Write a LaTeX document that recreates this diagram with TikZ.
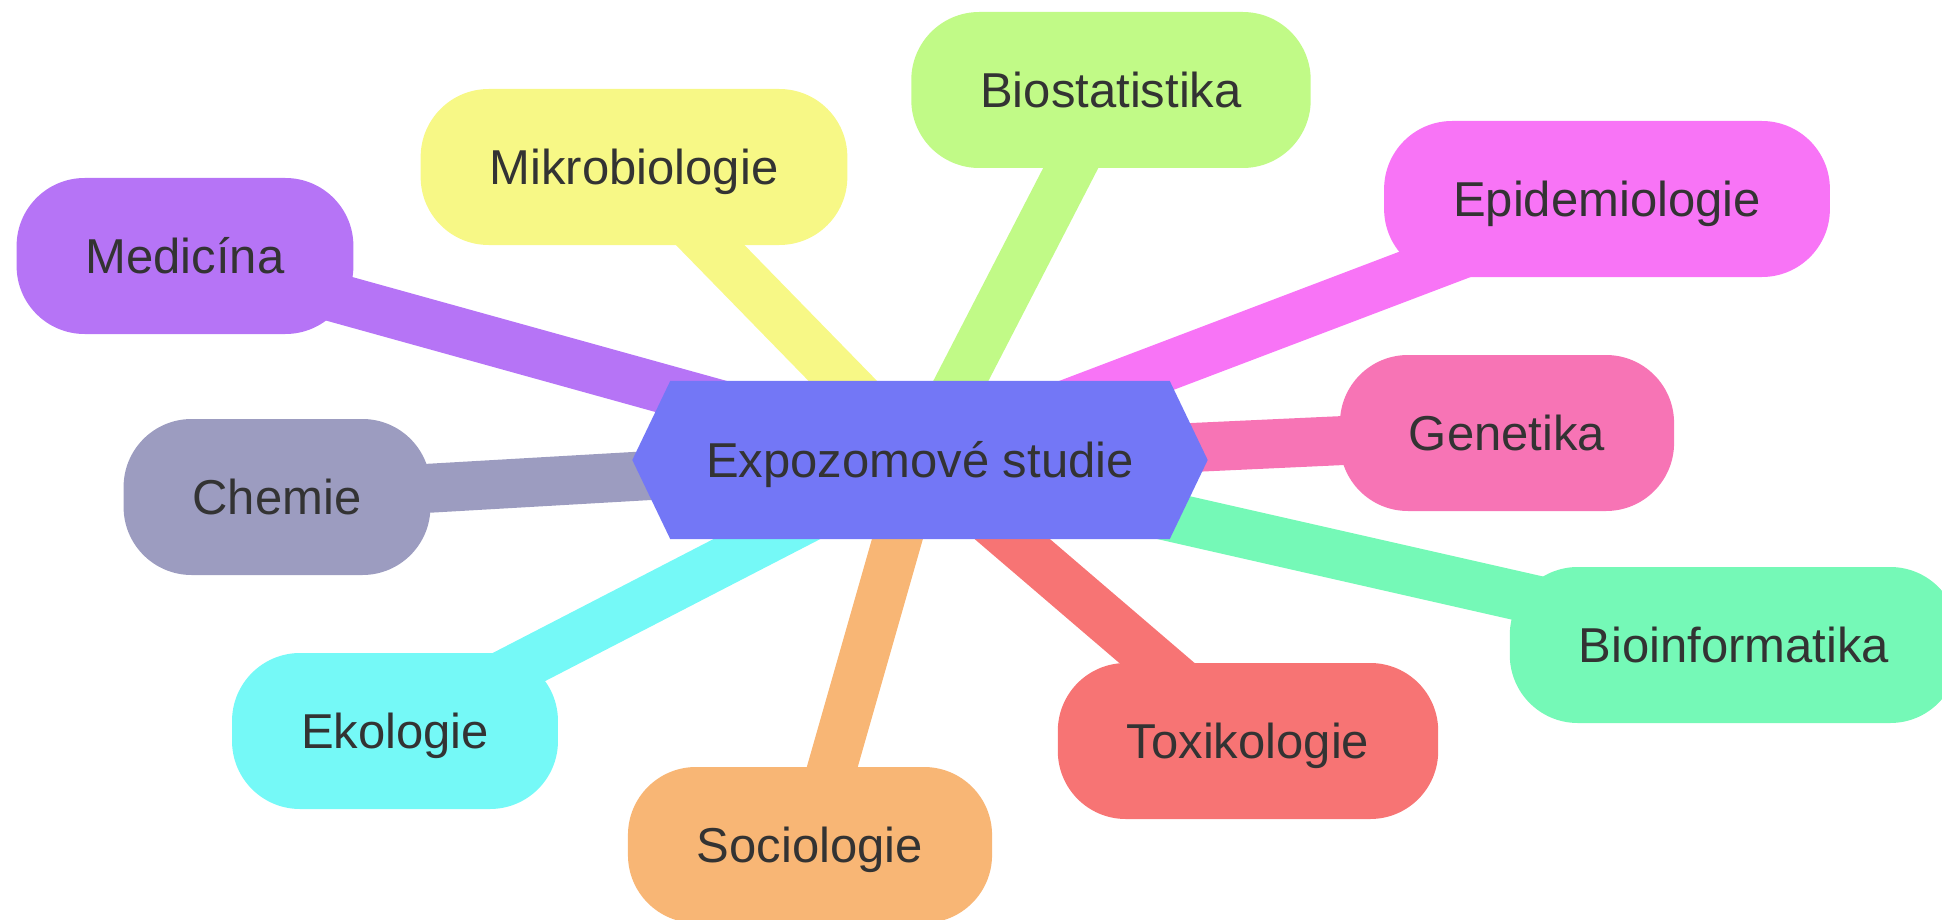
\documentclass[tikz,border=0pt]{standalone}
\usepackage{fontspec}
\setmainfont{Liberation Sans}
\usetikzlibrary{calc}
\pgfdeclarelayer{edges}
\pgfdeclarelayer{hex}
\pgfsetlayers{edges,hex,main}

\definecolor{textgray}{RGB}{51,51,51}
\definecolor{rootfill}{RGB}{115,119,246}
\definecolor{cmed}{RGB}{182,116,246}
\definecolor{cmik}{RGB}{247,248,134}
\definecolor{cbio}{RGB}{193,250,135}
\definecolor{cepi}{RGB}{248,116,246}
\definecolor{cgen}{RGB}{247,116,181}
\definecolor{cbinf}{RGB}{117,249,183}
\definecolor{ctox}{RGB}{247,116,116}
\definecolor{csoc}{RGB}{248,182,117}
\definecolor{ceko}{RGB}{117,249,247}
\definecolor{cche}{RGB}{156,156,192}

\begin{document}
\begin{tikzpicture}[x=1pt,y=-1pt,
  labelfont/.style={text=textgray, font=\fontsize{49}{59}\selectfont,
    text height=35pt, text depth=0pt},
  topic/.style={labelfont, fill=#1, rounded corners=68pt,
    inner xsep=69pt, inner ysep=0pt, minimum height=156pt},
  rootlabel/.style={labelfont, inner sep=0pt,
    minimum width=499pt, minimum height=158pt},
  link/.style={draw=#1, line width=49pt}
]
\useasboundingbox (0,0) rectangle (1942,920);
\clip (0,0) rectangle (1942,920);

% central topic
\node[rootlabel] (root) at (920,460) {Expozomové studie};
\begin{pgfonlayer}{hex}
  \fill[rootfill] ($(root.west)+(-38,0)$) -- (root.north west) -- (root.north east)
    -- ($(root.east)+(38,0)$) -- (root.south east) -- (root.south west) -- cycle;
\end{pgfonlayer}

% branches
\node[topic=cmed]  (med)  at (185,256)  {Medicína};
\node[topic=cmik]  (mik)  at (634,167)  {Mikrobiologie};
\node[topic=cbio]  (bio)  at (1111,90)  {Biostatistika};
\node[topic=cepi]  (epi)  at (1607,199) {Epidemiologie};
\node[topic=cgen]  (gen)  at (1507,433) {Genetika};
\node[topic=cbinf] (binf) at (1734,645) {Bioinformatika};
\node[topic=ctox]  (tox)  at (1248,741) {Toxikologie};
\node[topic=csoc]  (soc)  at (810,845)  {Sociologie};
\node[topic=ceko]  (eko)  at (395,731)  {Ekologie};
\node[topic=cche]  (che)  at (277,497)  {Chemie};

% connectors behind everything
\begin{pgfonlayer}{edges}
  \draw[link=cmed]  (root.center) -- (med.center);
  \draw[link=cmik]  (root.center) -- (mik.center);
  \draw[link=cbio]  (root.center) -- (bio.center);
  \draw[link=cepi]  (root.center) -- (epi.center);
  \draw[link=cgen]  (root.center) -- (gen.center);
  \draw[link=cbinf] (root.center) -- (binf.center);
  \draw[link=ctox]  (root.center) -- (tox.center);
  \draw[link=csoc]  (root.center) -- (soc.center);
  \draw[link=ceko]  (root.center) -- (eko.center);
  \draw[link=cche]  (root.center) -- (che.center);
\end{pgfonlayer}
\end{tikzpicture}
\end{document}
